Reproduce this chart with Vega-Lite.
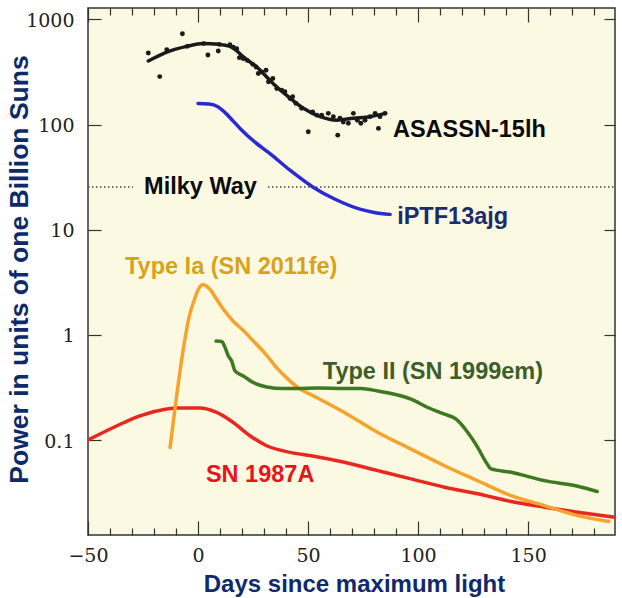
{
  "$schema": "https://vega.github.io/schema/vega-lite/v6.json",
  "autosize": "none",
  "width": 527,
  "height": 527,
  "padding": {"left": 88, "top": 8, "right": 7, "bottom": 63},
  "background": "white",
  "config": {
    "view": {"fill": "#fcf9e3", "stroke": "#333333", "strokeWidth": 1.5},
    "axis": {"domain": false, "grid": false, "tickColor": "#333333", "tickWidth": 1.2}
  },
  "datasets": {
    "mw": [
      {"x": -50, "x2": -29.5, "y": 25.5},
      {"x": 31.8, "x2": 189.5, "y": 25.5}
    ],
    "labels": [
      {"key": "ASASSN-15lh", "text": "ASASSN-15lh", "x": 88.6, "y": 88.1},
      {"key": "iPTF13ajg", "text": "iPTF13ajg", "x": 90.5, "y": 13.2},
      {"key": "Milky Way", "text": "Milky Way", "x": -24.5, "y": 25.6},
      {"key": "Type Ia", "text": "Type Ia (SN 2011fe)", "x": -33.2, "y": 4.44},
      {"key": "Type II", "text": "Type II (SN 1999em)", "x": 56.7, "y": 0.446},
      {"key": "SN 1987A", "text": "SN 1987A", "x": 3.6, "y": 0.0465}
    ],
    "lines": [
      {"s": "SN 1987A", "x": -50, "y": 0.1},
      {"s": "SN 1987A", "x": -37, "y": 0.136},
      {"s": "SN 1987A", "x": -26.4, "y": 0.17},
      {"s": "SN 1987A", "x": -14.2, "y": 0.197},
      {"s": "SN 1987A", "x": -9.7, "y": 0.202},
      {"s": "SN 1987A", "x": 0.9, "y": 0.202},
      {"s": "SN 1987A", "x": 8.5, "y": 0.183},
      {"s": "SN 1987A", "x": 16, "y": 0.147},
      {"s": "SN 1987A", "x": 23.6, "y": 0.11},
      {"s": "SN 1987A", "x": 31.2, "y": 0.0883},
      {"s": "SN 1987A", "x": 41.8, "y": 0.0764},
      {"s": "SN 1987A", "x": 51.4, "y": 0.071},
      {"s": "SN 1987A", "x": 66.5, "y": 0.0615},
      {"s": "SN 1987A", "x": 81.7, "y": 0.0512},
      {"s": "SN 1987A", "x": 96.8, "y": 0.0427},
      {"s": "SN 1987A", "x": 112, "y": 0.0356},
      {"s": "SN 1987A", "x": 127.1, "y": 0.0308},
      {"s": "SN 1987A", "x": 142.3, "y": 0.026},
      {"s": "SN 1987A", "x": 157.4, "y": 0.023},
      {"s": "SN 1987A", "x": 172.6, "y": 0.0206},
      {"s": "SN 1987A", "x": 189.5, "y": 0.0184},
      {"s": "Type Ia", "x": -12.7, "y": 0.085},
      {"s": "Type Ia", "x": -10.5, "y": 0.197},
      {"s": "Type Ia", "x": -6.7, "y": 0.73},
      {"s": "Type Ia", "x": -3.6, "y": 1.62},
      {"s": "Type Ia", "x": -2.1, "y": 2.02},
      {"s": "Type Ia", "x": 0.1, "y": 2.7},
      {"s": "Type Ia", "x": 2.1, "y": 3.0},
      {"s": "Type Ia", "x": 5.5, "y": 2.7},
      {"s": "Type Ia", "x": 8.5, "y": 2.17},
      {"s": "Type Ia", "x": 12, "y": 1.7},
      {"s": "Type Ia", "x": 16, "y": 1.35},
      {"s": "Type Ia", "x": 20.6, "y": 1.1},
      {"s": "Type Ia", "x": 25, "y": 0.88},
      {"s": "Type Ia", "x": 31.2, "y": 0.64},
      {"s": "Type Ia", "x": 36, "y": 0.48},
      {"s": "Type Ia", "x": 40.3, "y": 0.39},
      {"s": "Type Ia", "x": 46.4, "y": 0.305},
      {"s": "Type Ia", "x": 51.4, "y": 0.27},
      {"s": "Type Ia", "x": 66.5, "y": 0.183},
      {"s": "Type Ia", "x": 81.7, "y": 0.118},
      {"s": "Type Ia", "x": 96.8, "y": 0.082},
      {"s": "Type Ia", "x": 112, "y": 0.057},
      {"s": "Type Ia", "x": 127.1, "y": 0.041},
      {"s": "Type Ia", "x": 142.3, "y": 0.0296},
      {"s": "Type Ia", "x": 157.4, "y": 0.0238},
      {"s": "Type Ia", "x": 172.6, "y": 0.0191},
      {"s": "Type Ia", "x": 186.7, "y": 0.0168},
      {"s": "Type II", "x": 8.2, "y": 0.873},
      {"s": "Type II", "x": 10.8, "y": 0.865},
      {"s": "Type II", "x": 12.3, "y": 0.757},
      {"s": "Type II", "x": 13.8, "y": 0.63},
      {"s": "Type II", "x": 15.3, "y": 0.565},
      {"s": "Type II", "x": 16.8, "y": 0.454},
      {"s": "Type II", "x": 20.6, "y": 0.407},
      {"s": "Type II", "x": 25.1, "y": 0.352},
      {"s": "Type II", "x": 31.2, "y": 0.32},
      {"s": "Type II", "x": 38.8, "y": 0.309},
      {"s": "Type II", "x": 46.4, "y": 0.31},
      {"s": "Type II", "x": 54.7, "y": 0.312},
      {"s": "Type II", "x": 66.5, "y": 0.309},
      {"s": "Type II", "x": 74.1, "y": 0.309},
      {"s": "Type II", "x": 81.7, "y": 0.293},
      {"s": "Type II", "x": 89.2, "y": 0.273},
      {"s": "Type II", "x": 96.8, "y": 0.245},
      {"s": "Type II", "x": 104.4, "y": 0.204},
      {"s": "Type II", "x": 112, "y": 0.176},
      {"s": "Type II", "x": 117.3, "y": 0.158},
      {"s": "Type II", "x": 122.6, "y": 0.118},
      {"s": "Type II", "x": 127.1, "y": 0.0853},
      {"s": "Type II", "x": 130.9, "y": 0.0615},
      {"s": "Type II", "x": 133.2, "y": 0.0531},
      {"s": "Type II", "x": 142.3, "y": 0.0494},
      {"s": "Type II", "x": 157.4, "y": 0.0411},
      {"s": "Type II", "x": 172.6, "y": 0.0364},
      {"s": "Type II", "x": 181.4, "y": 0.0324},
      {"s": "iPTF13ajg", "x": 0, "y": 159},
      {"s": "iPTF13ajg", "x": 5, "y": 157},
      {"s": "iPTF13ajg", "x": 9, "y": 148},
      {"s": "iPTF13ajg", "x": 12.3, "y": 130},
      {"s": "iPTF13ajg", "x": 16, "y": 108},
      {"s": "iPTF13ajg", "x": 19.1, "y": 92},
      {"s": "iPTF13ajg", "x": 25.9, "y": 68},
      {"s": "iPTF13ajg", "x": 32.7, "y": 53},
      {"s": "iPTF13ajg", "x": 41.8, "y": 36.8},
      {"s": "iPTF13ajg", "x": 52.3, "y": 25.4},
      {"s": "iPTF13ajg", "x": 62.3, "y": 19.5},
      {"s": "iPTF13ajg", "x": 73.6, "y": 15.7},
      {"s": "iPTF13ajg", "x": 80, "y": 14.6},
      {"s": "iPTF13ajg", "x": 87.3, "y": 14.0},
      {"s": "ASASSN-15lh", "x": -22.6, "y": 403},
      {"s": "ASASSN-15lh", "x": -14.2, "y": 490},
      {"s": "ASASSN-15lh", "x": -5.1, "y": 555},
      {"s": "ASASSN-15lh", "x": 2.4, "y": 589},
      {"s": "ASASSN-15lh", "x": 9.2, "y": 580},
      {"s": "ASASSN-15lh", "x": 14.5, "y": 555},
      {"s": "ASASSN-15lh", "x": 17.5, "y": 505},
      {"s": "ASASSN-15lh", "x": 20.6, "y": 440},
      {"s": "ASASSN-15lh", "x": 26.7, "y": 353},
      {"s": "ASASSN-15lh", "x": 34.2, "y": 245},
      {"s": "ASASSN-15lh", "x": 40.3, "y": 190},
      {"s": "ASASSN-15lh", "x": 47.9, "y": 143},
      {"s": "ASASSN-15lh", "x": 55.5, "y": 119},
      {"s": "ASASSN-15lh", "x": 63, "y": 110},
      {"s": "ASASSN-15lh", "x": 70.6, "y": 115},
      {"s": "ASASSN-15lh", "x": 78.2, "y": 119},
      {"s": "ASASSN-15lh", "x": 85, "y": 128}
    ],
    "points": [
      {"x": -22.6, "y": 480}, {"x": -17.4, "y": 286}, {"x": -14.2, "y": 516},
      {"x": -7.1, "y": 731}, {"x": -4.9, "y": 555}, {"x": 2.6, "y": 589},
      {"x": 4.5, "y": 459}, {"x": 9.2, "y": 501}, {"x": 9.7, "y": 580},
      {"x": 14.5, "y": 575}, {"x": 16.0, "y": 546}, {"x": 17.6, "y": 527},
      {"x": 18.8, "y": 433}, {"x": 20.6, "y": 424}, {"x": 22.4, "y": 408},
      {"x": 24.9, "y": 374}, {"x": 26.4, "y": 353}, {"x": 27.4, "y": 306},
      {"x": 29.0, "y": 316}, {"x": 30.9, "y": 329}, {"x": 32.0, "y": 255},
      {"x": 34.0, "y": 274}, {"x": 35.8, "y": 220}, {"x": 38.0, "y": 212},
      {"x": 39.5, "y": 205}, {"x": 41.8, "y": 177}, {"x": 43.0, "y": 184},
      {"x": 44.5, "y": 159}, {"x": 47.1, "y": 143}, {"x": 50.1, "y": 85.5},
      {"x": 52.1, "y": 132}, {"x": 54.0, "y": 123}, {"x": 56.2, "y": 123},
      {"x": 59.2, "y": 128}, {"x": 61.5, "y": 119}, {"x": 63.5, "y": 79.4},
      {"x": 64.5, "y": 115}, {"x": 66.0, "y": 106}, {"x": 68.3, "y": 103},
      {"x": 70.6, "y": 128}, {"x": 72.4, "y": 110}, {"x": 74.0, "y": 103},
      {"x": 75.9, "y": 110}, {"x": 78.2, "y": 119}, {"x": 80.5, "y": 128},
      {"x": 82.0, "y": 92}, {"x": 82.7, "y": 119}, {"x": 85.0, "y": 128}
    ]
  },
  "resolve": {
    "axis": {"x": "independent", "y": "independent"},
    "scale": {"color": "independent"}
  },
  "layer": [
    {
      "data": {"name": "mw"},
      "mark": {"type": "rule", "strokeDash": [1.5, 2.5], "strokeWidth": 1.3, "color": "#444444"},
      "encoding": {
        "x": {
          "field": "x", "type": "quantitative",
          "scale": {"domain": [-50, 189.5], "nice": false, "zero": false},
          "axis": {
            "orient": "bottom",
            "offset": -14,
            "values": [-50, -40, -30, -20, -10, 0, 10, 20, 30, 40, 50, 60, 70, 80, 90, 100, 110, 120, 130, 140, 150, 160, 170, 180],
            "labelExpr": "datum.value % 50 === 0 ? datum.label : ''",
            "tickSize": 14,
            "tickDash": {"condition": {"test": "datum.value % 50 === 0", "value": [14, 0]}, "value": [0, 7, 7, 0]},
            "labelPadding": 26.7,
            "labelBaseline": "alphabetic",
            "labelFont": "DejaVu Serif",
            "labelFontSize": 19,
            "labelColor": "#222222",
            "labelFlush": false,
            "title": "Days since maximum light",
            "titleFont": "Liberation Sans",
            "titleFontSize": 24,
            "titleFontWeight": "bold",
            "titleColor": "#0f2a6b",
            "titleX": 266,
            "titleY": 70,
            "titleAlign": "center",
            "titleBaseline": "alphabetic"
          }
        },
        "x2": {"field": "x2"},
        "y": {
          "field": "y", "type": "quantitative",
          "scale": {"type": "log", "domain": [0.0125, 1285], "nice": false},
          "axis": {
            "orient": "left",
            "offset": -13,
            "values": [0.1, 1, 10, 100, 1000],
            "format": "~g",
            "tickSize": 13,
            "labelPadding": 14,
            "labelFont": "DejaVu Serif",
            "labelFontSize": 19,
            "labelColor": "#222222",
            "labelFlush": false,
            "labelOffset": 1,
            "title": "Power in units of one Billion Suns",
            "titleFont": "Liberation Sans",
            "titleFontSize": 26.5,
            "titleFontWeight": "bold",
            "titleColor": "#0f2a6b",
            "titleX": -74,
            "titleY": 261,
            "titleAngle": -90,
            "titleAlign": "center",
            "titleBaseline": "alphabetic"
          }
        }
      }
    },
    {
      "data": {"name": "lines"},
      "mark": {"type": "line", "interpolate": "monotone", "strokeWidth": 3.5, "strokeCap": "round", "strokeJoin": "round", "clip": true},
      "encoding": {
        "x": {"field": "x", "type": "quantitative", "axis": null},
        "y": {"field": "y", "type": "quantitative", "axis": null},
        "color": {
          "field": "s", "type": "nominal", "legend": null,
          "scale": {
            "domain": ["SN 1987A", "Type Ia", "Type II", "iPTF13ajg", "ASASSN-15lh"],
            "range": ["#e8281e", "#f5a32a", "#3d7a1f", "#2a2ad2", "#1a1a1a"]
          }
        }
      }
    },
    {
      "data": {"name": "points"},
      "mark": {"type": "circle", "size": 24, "opacity": 1, "color": "#1a1a1a"},
      "encoding": {
        "x": {"field": "x", "type": "quantitative", "axis": null},
        "y": {"field": "y", "type": "quantitative", "axis": null}
      }
    },
    {
      "data": {"name": "labels"},
      "mark": {"type": "text", "align": "left", "baseline": "middle", "font": "Liberation Sans", "fontSize": 23.5, "fontWeight": "bold"},
      "encoding": {
        "x": {
          "field": "x", "type": "quantitative",
          "axis": {
            "orient": "top",
            "offset": -14,
            "values": [-50, -40, -30, -20, -10, 0, 10, 20, 30, 40, 50, 60, 70, 80, 90, 100, 110, 120, 130, 140, 150, 160, 170, 180],
            "labels": false,
            "tickSize": 14,
            "tickDash": {"condition": {"test": "datum.value % 50 === 0", "value": [14, 0]}, "value": [0, 7, 7, 0]},
            "title": null
          }
        },
        "y": {
          "field": "y", "type": "quantitative",
          "axis": {
            "orient": "right",
            "offset": -11,
            "values": [0.1, 1, 10, 100, 1000],
            "labels": false,
            "tickSize": 11,
            "title": null
          }
        },
        "text": {"field": "text"},
        "color": {
          "field": "key", "type": "nominal", "legend": null,
          "scale": {
            "domain": ["ASASSN-15lh", "iPTF13ajg", "Milky Way", "Type Ia", "Type II", "SN 1987A"],
            "range": ["#0a0a0a", "#1c2c6b", "#0a0a0a", "#d9a21b", "#3d5e29", "#e8141b"]
          }
        }
      }
    }
  ]
}
